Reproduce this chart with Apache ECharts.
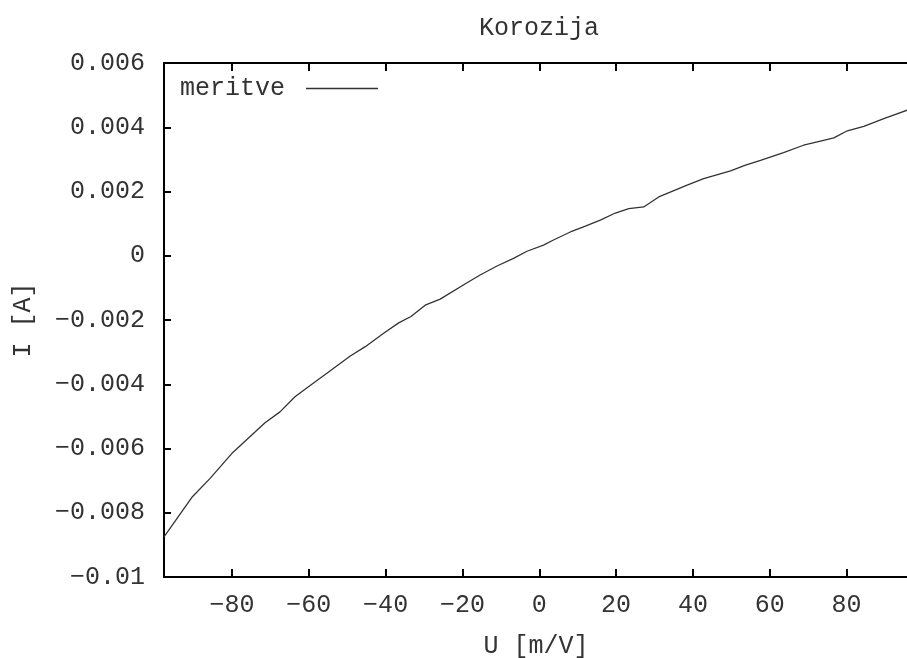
<!DOCTYPE html>
<html>
<head>
<meta charset="utf-8">
<script src="https://cdn.jsdelivr.net/npm/echarts@6/dist/echarts.min.js"></script>
<style>html,body{margin:0;padding:0;background:#fff}#c{width:907px;height:658px}</style>
</head>
<body>
<div id="c"></div>
<script>
var U = [-97.7,-90.3,-85.7,-80.0,-71.4,-67.5,-63.6,-60.1,-55.3,-49.2,-45.3,-40.6,-36.6,-33.4,-29.7,-25.8,-18.8,-15.4,-11.0,-6.7,-3.2,1.1,3.7,8.1,12.0,15.9,19.8,23.3,27.2,31.1,38.5,42.8,49.8,53.7,57.6,63.6,68.8,73.2,76.7,80.2,84.5,89.7,95.8];
var I = [-0.00875,-0.0075,-0.00693,-0.00615,-0.0052,-0.00486,-0.00439,-0.00408,-0.00366,-0.00312,-0.00283,-0.00242,-0.00209,-0.00189,-0.00154,-0.00135,-0.00084,-0.0006,-0.00032,-0.00008,0.00014,0.00033,0.00049,0.00074,0.00092,0.00111,0.00133,0.00147,0.00152,0.00183,0.0022,0.0024,0.00264,0.00282,0.00297,0.00321,0.00344,0.00357,0.00367,0.00389,0.00403,0.00427,0.00453];
var xTicks = [-80,-60,-40,-20,0,20,40,60,80];
var seriesName = 'meritve';
var titleText = 'Korozija';
var xName = 'U [m/V]';
var yName = 'I [A]';

var FONT = 'Liberation Mono';
var FS = 25;
var TXT = '#333';
var data = U.map(function(u,i){return [u, I[i]];});
var chart = echarts.init(document.getElementById('c'));
function fmtY(v){
  var r = Math.round(v*1e6)/1e6;
  if (r === 0) return '0';
  var s = String(Math.abs(r));
  return (r < 0 ? '\u2212' : '') + s;
}
function fmtX(v){ return (v<0?'\u2212':'') + Math.abs(v); }
chart.setOption({
  animation: false,
  backgroundColor: '#fff',
  title: {text: titleText, left: 474, top: 11,
    textStyle: {fontFamily: FONT, fontSize: FS, fontWeight: 'normal', color: TXT}},
  legend: {left: 175, top: 71, align: 'right', icon: 'rect', itemWidth: 72, itemHeight: 1.3, itemGap: 0,
    itemStyle: {color: '#333', borderWidth: 0},
    textStyle: {fontFamily: FONT, fontSize: FS, color: TXT, padding: [0, 16, 0, 0]},
    data: [seriesName]},
  grid: {left: 164, right: -1, top: 63, bottom: 81, containLabel: false, outerBoundsMode: 'none'},
  xAxis: [{
    type: 'value', min: -97.7, max: 96, position: 'bottom',
    name: xName, nameLocation: 'middle', nameGap: 57,
    nameTextStyle: {fontFamily: FONT, fontSize: FS, color: TXT},
    axisLine: {onZero: false, lineStyle: {color: '#000', width: 2}},
    axisTick: {inside: true, length: 8, customValues: xTicks, lineStyle: {color: '#000', width: 2}},
    axisLabel: {customValues: xTicks, margin: 16, formatter: fmtX,
      fontFamily: FONT, fontSize: FS, color: TXT},
    splitLine: {show: false}
  }, {
    type: 'value', min: -97.7, max: 96, position: 'top',
    axisLine: {onZero: false, lineStyle: {color: '#000', width: 2}},
    axisTick: {inside: true, length: 8, customValues: xTicks, lineStyle: {color: '#000', width: 2}},
    axisLabel: {show: false},
    splitLine: {show: false}
  }],
  yAxis: [{
    type: 'value', min: -0.01, max: 0.006, interval: 0.002,
    name: yName, nameLocation: 'middle', nameGap: 128, nameRotate: 90,
    nameTextStyle: {fontFamily: FONT, fontSize: FS, color: TXT},
    axisLine: {show: true, onZero: false, lineStyle: {color: '#000', width: 2}},
    axisTick: {show: true, inside: true, length: 7, lineStyle: {color: '#000', width: 2}},
    axisLabel: {margin: 19, formatter: fmtY, fontFamily: FONT, fontSize: FS, color: TXT},
    splitLine: {show: false}
  }],
  series: [{
    name: seriesName, type: 'line', data: data, symbol: 'none', smooth: false,
    xAxisIndex: 0, yAxisIndex: 0,
    lineStyle: {color: '#333', width: 1.3},
    itemStyle: {color: '#333'}
  }]
});
</script>
</body>
</html>
